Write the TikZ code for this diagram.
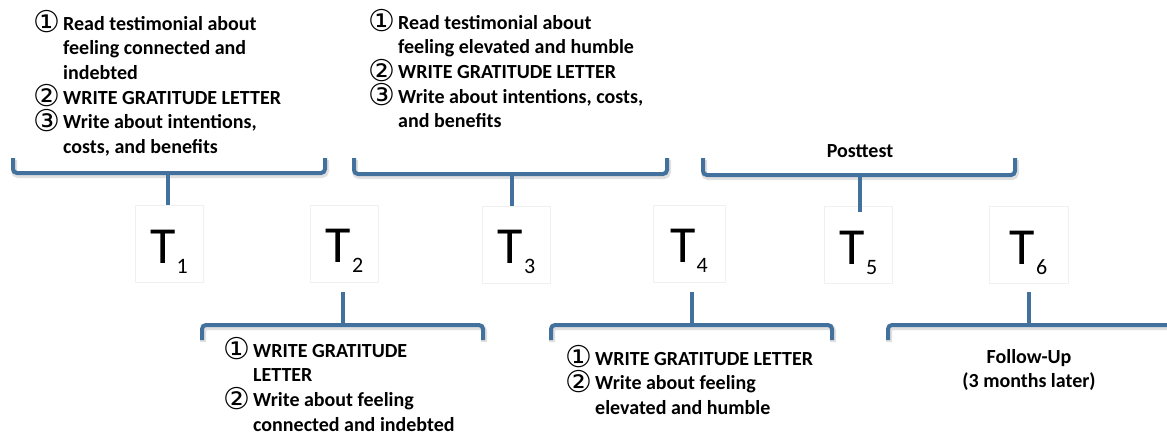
\documentclass[tikz,border=0pt]{standalone}
\usepackage{fontspec}
\setmainfont{Carlito}
\newfontfamily\symfont{DejaVu Sans}
\definecolor{brk}{RGB}{65,113,156}
\newcommand\tlab[1]{T\kern1pt\raisebox{-10pt}{\fontsize{22}{22}\selectfont #1}}
\newcommand\cn[1]{\makebox[29pt][l]{\kern-0.5pt\raisebox{-2.6pt}[0pt][0pt]{\symfont\mdseries\fontsize{30}{30}\selectfont #1}}}
\tikzset{
  bracket/.style={draw=brk, line width=4pt, rounded corners=4pt},
  bshadow/.style={draw=black, opacity=0.12, line width=6pt, rounded corners=4pt},
  tbox/.style={draw=black!6, line width=0.6pt, minimum width=68pt, minimum height=77pt,
    inner sep=0pt, text height=50pt, text depth=12pt, font=\fontsize{52}{52}\selectfont},
  txt/.style={inner sep=0pt, font=\bfseries\fontsize{20}{24.7}\selectfont, anchor=base west},
  ctxt/.style={inner sep=0pt, font=\bfseries\fontsize{20}{24.7}\selectfont, anchor=base}
}
\begin{document}
\begin{tikzpicture}[x=1pt,y=-1pt]
\useasboundingbox (0,0) rectangle (1167,434);
% T nodes
\node[tbox] (T1) at (169,244) {\tlab{1}};
\node[tbox] (T2) at (344.5,243.5) {\tlab{2}};
\node[tbox] (T3) at (516.5,244.5) {\tlab{3}};
\node[tbox, minimum width=72pt] (T4) at (689,243.5) {\tlab{4}};
\node[tbox] (T5) at (858.5,245) {\tlab{5}};
\node[tbox, minimum width=79pt] (T6) at (1028.5,245) {\tlab{6}};
% bracket midpoints
\coordinate (b1m) at (168,173);
\coordinate (b2m) at (512,174);
\coordinate (b3m) at (860,175);
\coordinate (c1m) at (343,325);
\coordinate (c2m) at (692,325);
\coordinate (c3m) at (1029,325);
% shadows
\foreach \p in {
  {(13,158) -- (13,173) -- (325,173) -- (325,158)},
  {(354,158) -- (354,174) -- (667,174) -- (667,158)},
  {(703,158) -- (703,175) -- (1015,175) -- (1015,158)},
  {(202,340) -- (202,325) -- (483,325) -- (483,340)},
  {(551,340) -- (551,325) -- (832,325) -- (832,340)},
  {(888,340) -- (888,325) -- (1180,325) -- (1180,340)}}
  {\draw[bshadow, transform canvas={xshift=1pt,yshift=-2pt}] \p;}
% top brackets
\draw[bracket] (13,158) -- (13,173) -- (325,173) -- (325,158);
\draw[bracket] (b1m) -- (b1m |- T1.north);
\draw[bracket] (354,158) -- (354,174) -- (667,174) -- (667,158);
\draw[bracket] (b2m) -- (b2m |- T3.north);
\draw[bracket] (703,158) -- (703,175) -- (1015,175) -- (1015,158);
\draw[bracket] (b3m) -- ([yshift=-6pt]b3m |- T5.north);
% bottom brackets
\draw[bracket] (202,340) -- (202,325) -- (483,325) -- (483,340);
\draw[bracket] ([yshift=-10pt]c1m |- T2.south) -- (c1m);
\draw[bracket] (551,340) -- (551,325) -- (832,325) -- (832,340);
\draw[bracket] ([yshift=-10pt]c2m |- T4.south) -- (c2m);
\draw[bracket] (888,340) -- (888,325) -- (1180,325) -- (1180,340);
\draw[bracket] ([yshift=-8pt]c3m |- T6.south) -- (c3m);
% texts
\node[txt] (tl) at (34,30) {\begin{tabular}[t]{@{}l@{}l@{}}
\cn{①} & Read testimonial about\\
 & feeling connected and\\
 & indebted\\
\cn{②} & WRITE GRATITUDE LETTER\\
\cn{③} & Write about intentions,\\
 & costs, and benefits
\end{tabular}};
\node[txt] (tm) at (369,29) {\begin{tabular}[t]{@{}l@{}l@{}}
\cn{①} & Read testimonial about\\
 & feeling elevated and humble\\
\cn{②} & WRITE GRATITUDE LETTER\\
\cn{③} & Write about intentions, costs,\\
 & and benefits
\end{tabular}};
\node[ctxt] (pt) at (860,157) {Posttest};
\node[txt] (bl) at (224,357) {\begin{tabular}[t]{@{}l@{}l@{}}
\cn{①} & WRITE GRATITUDE\\
 & LETTER\\
\cn{②} & Write about feeling\\
 & connected and indebted
\end{tabular}};
\node[txt] (bm) at (566,365) {\begin{tabular}[t]{@{}l@{}l@{}}
\cn{①} & WRITE GRATITUDE LETTER\\
\cn{②} & Write about feeling\\
 & elevated and humble
\end{tabular}};
\node[ctxt] (fu) at (1029,363) {\begin{tabular}[t]{@{}c@{}}
Follow-Up\\
(3 months later)
\end{tabular}};
\end{tikzpicture}
\end{document}
